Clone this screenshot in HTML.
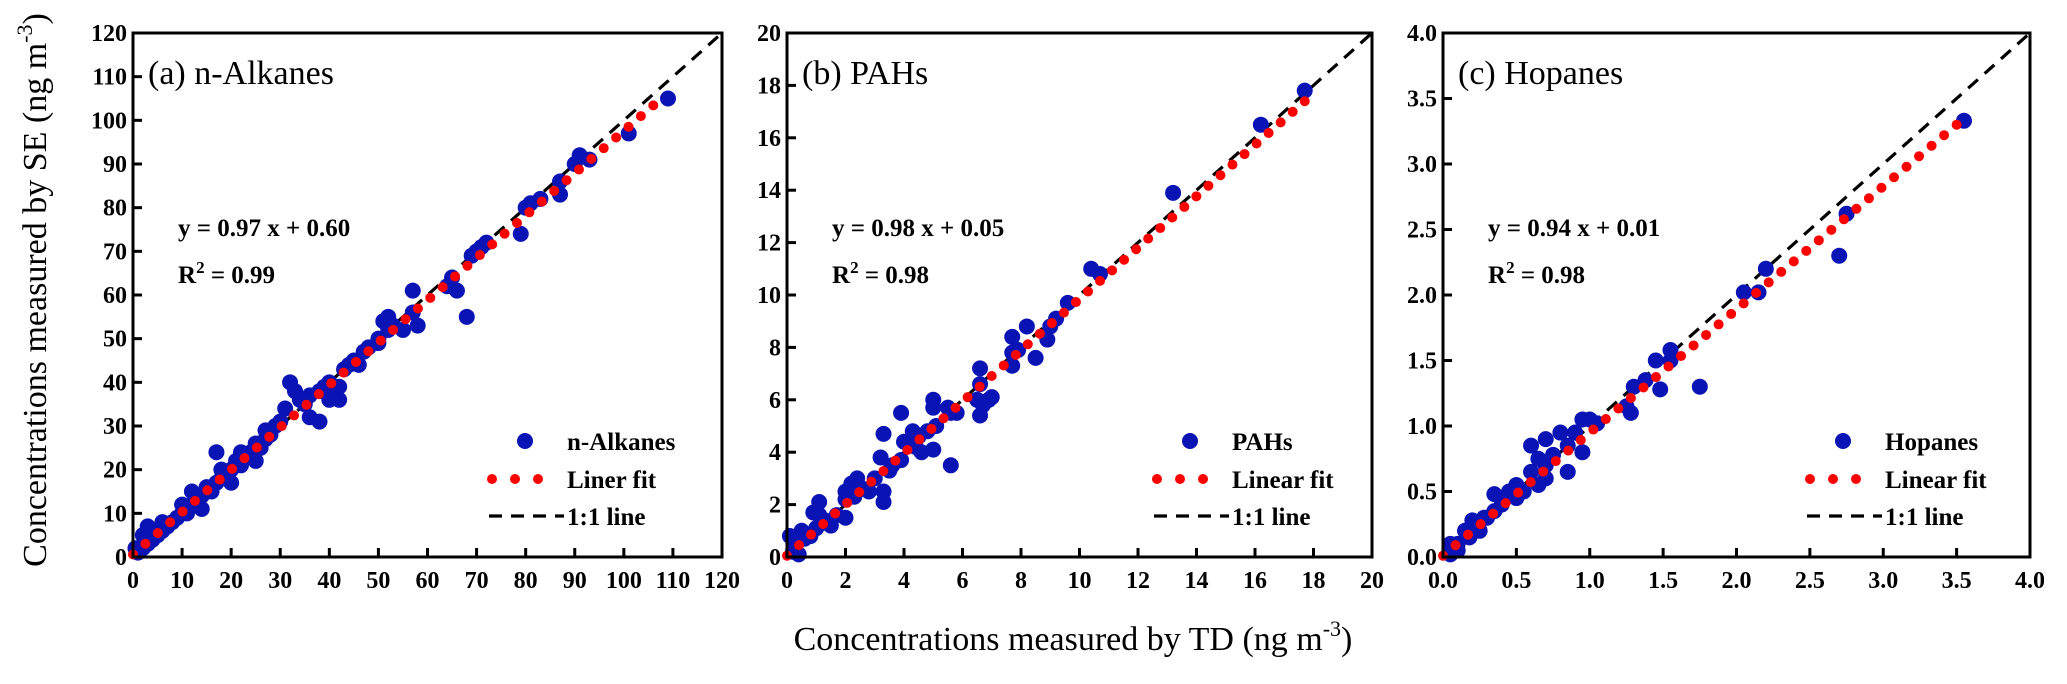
<!DOCTYPE html>
<html><head><meta charset="utf-8">
<style>
html,body{margin:0;padding:0;background:#fff;}
svg{display:block;}
svg text{font-family:"Liberation Serif","Times New Roman",serif;}
</style></head>
<body>
<svg id="chart" width="2067" height="684" viewBox="0 0 2067 684" font-family="Liberation Serif, serif">
<text x="46" y="290" font-size="34" text-anchor="middle" transform="rotate(-90 46 290)">Concentrations measured by SE  (ng m<tspan font-size="22" dy="-14">-3</tspan><tspan dy="14">)</tspan></text>
<text x="1073" y="650" font-size="34" text-anchor="middle">Concentrations measured by TD  (ng m<tspan font-size="22" dy="-14">-3</tspan><tspan dy="14">)</tspan></text>
</svg>
<script>
const NS="http://www.w3.org/2000/svg";
const svg=document.getElementById('chart');

// Panel (a) n-Alkanes
const aX=[109,101,91,93,90,87,87,83,80,81,79,72,71,70,69,68,66,64,65,57,57,58,55,52,51,52,53,50,48,47,45,44,43,42,41,40,39,38,36,35,34,33,32,31,30,29,28,27,26,25,24,23,22,21,20,19,18,17,17,16,15,14,13,12,11,10,9,8,7,6,5,4,3,3,2,1,0.5,2,12,14,20,25,27,36,38,42,40,46,50,18,22,10,6,4];
const aY=[105,97,92,91,90,86,83,82,80,81,74,72,71,70,69,55,61,62,64,61,56,53,52,55,54,52,53,49,48,47,45,44,43,36,38,40,39,38,37,35,36,38,40,34,31,30,28,27,25,26,24,23,21,22,20,19,18,24,17,15,16,14,13,12,10,10,9,8,7,6,5,4,7,3,2,1,2,5,15,11,17,22,29,32,31,39,36,44,50,20,24,12,8,6];
// Panel (b) PAHs
const bX=[17.7,16.2,13.2,10.4,10.7,9.6,9.2,8.9,9,8.2,8.5,7.7,7.7,7.9,7.7,6.6,6.6,6.6,6.7,6.9,7,6.5,5.6,5.5,5.8,5,5,5.6,5,5.1,4.8,4.5,4.3,4.6,4.2,3.9,4,3.9,3.6,3.3,3.2,3.3,3.3,3,2.8,2.4,2.2,2,2,2,1.7,1.5,1.1,1.1,0.9,1,0.8,0.5,0.3,0.1,0.2,0.4,1.3,2.6,3.5,4.4,1.2,2.3,0.6];
const bY=[17.8,16.5,13.9,11,10.8,9.7,9.1,8.3,8.8,8.8,7.6,8.4,7.8,7.9,7.3,7.2,6.6,5.4,5.8,6,6.1,6,5.5,5.7,5.5,6,5.7,3.5,4.1,5,4.8,4.6,4.8,4,4.3,5.5,4.4,3.7,3.5,4.7,3.8,2.5,2.1,3,2.5,3,2.8,2.5,1.5,2.2,1.6,1.2,2.1,1.6,1.7,1.1,0.8,1,0.5,0.8,0.2,0.1,1.4,2.6,3.3,4.2,1.3,2.3,0.7];
// Panel (c) Hopanes
const cX=[3.55,2.75,2.7,2.2,2.05,2.15,1.75,1.55,1.55,1.48,1.45,1.38,1.3,1.25,1.28,1.0,1.05,0.95,0.95,0.9,0.85,0.85,0.8,0.75,0.7,0.7,0.7,0.65,0.6,0.6,0.55,0.5,0.5,0.45,0.4,0.35,0.35,0.3,0.28,0.25,0.2,0.18,0.15,0.1,0.05,0.05,0.1,0.65,0.4];
const cY=[3.33,2.62,2.3,2.2,2.02,2.02,1.3,1.58,1.5,1.28,1.5,1.35,1.3,1.15,1.1,1.05,1.02,1.05,0.8,0.95,0.85,0.65,0.95,0.78,0.9,0.7,0.6,0.75,0.85,0.65,0.5,0.55,0.45,0.5,0.4,0.48,0.35,0.3,0.3,0.2,0.28,0.15,0.2,0.1,0.1,0.02,0.05,0.55,0.45];

const aTicks=[0,10,20,30,40,50,60,70,80,90,100,110,120];
const bTicks=[0,2,4,6,8,10,12,14,16,18,20];
const cTicks=[0,0.5,1.0,1.5,2.0,2.5,3.0,3.5,4.0];
const aFit=[0.97,0.60], bFit=[0.98,0.05], cFit=[0.94,0.01];

function mk(tag,attrs,parent){const e=document.createElementNS(NS,tag);for(const k in attrs)e.setAttribute(k,attrs[k]);(parent||svg).appendChild(e);return e;}

function panel(id,L,R,T,B,max,ticks,dec,xs,ys,fit,fitEnd,title,eq,r2,serName,fitName,legOff){
  const g=mk('g',{});
  
  
  const sx=v=>L+(R-L)*v/max, sy=v=>B-(B-T)*v/max;
  const one=mk('line',{x1:sx(0),y1:sy(0),x2:sx(max),y2:sy(max),stroke:'#000','stroke-width':3.2,'stroke-dasharray':'13 9'},g);
  
  
  for(let i=0;i<xs.length;i++){
    const c=mk('circle',{cx:sx(xs[i]),cy:sy(ys[i]),r:8,fill:'#0a14b4'},g);
    
    
  }
  const x0=sx(0),y0=sy(fit[1]),x1=sx(fitEnd),y1=sy(fit[0]*fitEnd+fit[1]);
  const len=Math.hypot(x1-x0,y1-y0),n=Math.floor(len/16);
  for(let k=0;k<=n;k++){const t=k/n;
    const d=mk('circle',{cx:x0+(x1-x0)*t,cy:y0+(y1-y0)*t,r:5,fill:'#ff0000'},g);
    
    
  }
  const fr=mk('rect',{x:L,y:T,width:R-L,height:B-T,fill:'none',stroke:'#000','stroke-width':3},g);
  
  
  ticks.forEach(v=>{
    const lab=dec?v.toFixed(1):String(v);
    mk('line',{x1:L,y1:sy(v),x2:L+9,y2:sy(v),stroke:'#000','stroke-width':3},g);
    const ty=mk('text',{x:L-6,y:sy(v)+8,'font-size':24,'font-weight':'bold','text-anchor':'end'},g);
    ty.textContent=lab;
    
    
    mk('line',{x1:sx(v),y1:B,x2:sx(v),y2:B-9,stroke:'#000','stroke-width':3},g);
    const tx=mk('text',{x:sx(v),y:B+31,'font-size':24,'font-weight':'bold','text-anchor':'middle'},g);
    tx.textContent=lab;
    
    
  });
  const ti=mk('text',{x:L+15,y:T+51,'font-size':34},g);
  ti.textContent=title;
  
  
  const e1=mk('text',{x:L+45,y:T+203,'font-size':25,'font-weight':'bold'},g);
  e1.textContent=eq;
  
  
  const e2=mk('text',{x:L+45,y:T+250,'font-size':25,'font-weight':'bold'},g);
  e2.innerHTML='R<tspan font-size="17" dy="-10">2</tspan><tspan dy="10"> = '+r2+'</tspan>';
  
  
  const lg=mk('g',{},g);
  
  
  const lx=R-legOff;
  mk('circle',{cx:lx+33,cy:441,r:8,fill:'#0a14b4'},lg);
  const l1=mk('text',{x:lx+75,y:450,'font-size':25,'font-weight':'bold'},lg);l1.textContent=serName;
  
  
  [0,23,46].forEach(o=>mk('circle',{cx:lx+o,cy:479,r:5,fill:'#ff0000'},lg));
  const l2=mk('text',{x:lx+75,y:488,'font-size':25,'font-weight':'bold'},lg);l2.textContent=fitName;
  
  
  mk('line',{x1:lx-3,y1:516,x2:lx+72,y2:516,stroke:'#000','stroke-width':3.2,'stroke-dasharray':'13 9'},lg);
  const l3=mk('text',{x:lx+75,y:525,'font-size':25,'font-weight':'bold'},lg);l3.textContent='1:1 line';
  
  
}
panel('a',133,722,33,557,120,aTicks,false,aX,aY,aFit,106,'(a) n-Alkanes','y = 0.97 x + 0.60','0.99','n-Alkanes','Liner fit',230);
panel('b',787,1372,33,557,20,bTicks,false,bX,bY,bFit,17.7,'(b) PAHs','y = 0.98 x + 0.05','0.98','PAHs','Linear fit',215);
panel('c',1443,2030,33,557,4,cTicks,true,cX,cY,cFit,3.5,'(c) Hopanes','y = 0.94 x + 0.01','0.98','Hopanes','Linear fit',220);
</script>
</body></html>
